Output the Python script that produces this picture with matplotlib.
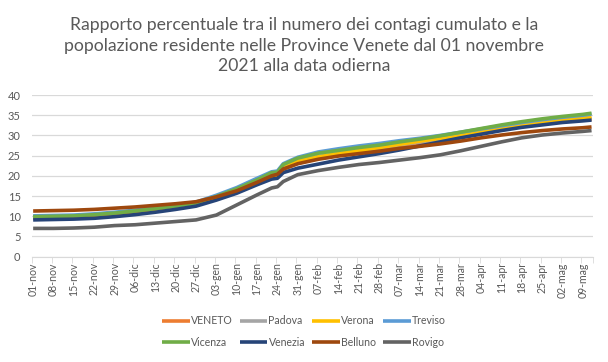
import matplotlib
matplotlib.use("Agg")
import matplotlib.pyplot as plt
from matplotlib.ticker import FixedLocator

# ---- data -------------------------------------------------------------
tick_labels = ["01-nov", "08-nov", "15-nov", "22-nov", "29-nov", "06-dic", "13-dic",
               "20-dic", "27-dic", "03-gen", "10-gen", "17-gen", "24-gen", "31-gen",
               "07-feb", "14-feb", "21-feb", "28-feb", "07-mar", "14-mar", "21-mar",
               "28-mar", "04-apr", "11-apr", "18-apr", "25-apr", "02-mag", "09-mag"]
n_days = 193  # 01-nov-2021 .. 12-mag-2022

# day offsets from 01-nov-2021 at which values were read
giorni = [0, 7, 14, 21, 28, 35, 42, 49, 56, 63, 70, 77, 82, 84, 86, 91, 98, 105,
          112, 119, 126, 133, 140, 147, 154, 161, 168, 175, 182, 189, 192]

veneto = [9.5, 9.6, 9.7, 10.0, 10.4, 10.8, 11.4, 12.0, 12.8, 14.3, 16.1, 18.3, 19.8,
          20.0, 21.6, 23.1, 24.3, 25.1, 25.8, 26.5, 27.3, 28.0, 28.8, 29.7, 30.6,
          31.4, 32.2, 32.8, 33.4, 33.8, 34.0]
padova = [9.9, 10.0, 10.1, 10.3, 10.7, 11.1, 11.7, 12.3, 13.1, 14.6, 16.5, 18.7, 20.3,
          20.5, 22.0, 23.7, 24.8, 25.5, 26.2, 26.9, 27.7, 28.4, 29.1, 30.0, 30.9,
          31.7, 32.5, 33.1, 33.6, 34.0, 34.2]
verona = [9.7, 9.8, 9.9, 10.2, 10.6, 11.0, 11.6, 12.2, 13.0, 14.5, 16.4, 18.6, 20.1,
          20.3, 21.9, 23.6, 24.7, 25.5, 26.2, 27.0, 27.8, 28.6, 29.3, 30.2, 31.1,
          31.9, 32.7, 33.3, 33.9, 34.3, 34.5]
treviso = [10.1, 10.2, 10.3, 10.6, 11.0, 11.5, 12.1, 12.7, 13.5, 15.2, 17.1, 19.4, 21.0,
           21.2, 23.0, 24.6, 25.9, 26.7, 27.4, 28.0, 28.7, 29.3, 30.0, 30.8, 31.6,
           32.4, 33.2, 33.9, 34.5, 35.0, 35.3]
vicenza = [9.9, 10.0, 10.1, 10.4, 10.8, 11.3, 11.9, 12.5, 13.3, 14.9, 16.8, 19.0, 20.8,
           20.9, 22.8, 24.4, 25.6, 26.3, 27.0, 27.6, 28.4, 29.1, 29.9, 30.8, 31.7,
           32.6, 33.4, 34.1, 34.7, 35.2, 35.5]
venezia = [9.1, 9.2, 9.3, 9.5, 9.9, 10.4, 11.0, 11.7, 12.5, 14.0, 15.7, 17.8, 19.2,
           19.4, 20.8, 21.9, 22.9, 23.9, 24.7, 25.5, 26.4, 27.4, 28.4, 29.4, 30.3,
           31.2, 32.0, 32.6, 33.2, 33.6, 33.8]
belluno = [11.3, 11.4, 11.5, 11.7, 12.0, 12.3, 12.7, 13.1, 13.6, 14.8, 16.3, 18.4, 20.0,
           20.4, 21.7, 23.0, 24.1, 24.9, 25.5, 26.1, 26.8, 27.3, 27.9, 28.6, 29.4,
           30.1, 30.7, 31.2, 31.6, 31.9, 32.1]
rovigo = [7.0, 7.0, 7.1, 7.3, 7.7, 7.9, 8.3, 8.7, 9.1, 10.3, 12.8, 15.3, 17.0,
          17.3, 18.6, 20.3, 21.3, 22.1, 22.8, 23.3, 23.9, 24.5, 25.2, 26.2, 27.3,
          28.4, 29.4, 30.1, 30.6, 31.0, 31.2]

serie = [("VENETO", veneto, "#ED7D31"),
         ("Padova", padova, "#A5A5A5"),
         ("Verona", verona, "#FFC000"),
         ("Treviso", treviso, "#5B9BD5"),
         ("Vicenza", vicenza, "#70AD47"),
         ("Venezia", venezia, "#264478"),
         ("Belluno", belluno, "#9E480E"),
         ("Rovigo", rovigo, "#636363")]

# ---- figure -----------------------------------------------------------
plt.rcParams["font.family"] = ["Lato", "DejaVu Sans"]
txt = "#595959"
fig = plt.figure(figsize=(6.08, 3.62), dpi=100)
ax = fig.add_axes([31.7 / 608, 1 - 256.7 / 362, (593 - 31.7) / 608, (256.7 - 95) / 362])

handles = []
for nome, vals, col in serie:
    h, = ax.plot(giorni, vals, color=col, lw=2.6, label=nome, solid_capstyle="butt")
    handles.append(h)

ax.set_xlim(-0.5, n_days - 0.5)
ax.set_ylim(0, 40)
ax.set_yticks(range(0, 41, 5))
ax.yaxis.grid(True, color="#D9D9D9", lw=0.9)
ax.set_axisbelow(True)
for s in ("top", "right", "left"):
    ax.spines[s].set_visible(False)
ax.spines["bottom"].set_color("#D9D9D9")
ax.tick_params(axis="y", length=0, labelsize=8, labelcolor=txt, pad=8)

label_pos = [7 * i for i in range(len(tick_labels))]
ax.set_xticks(label_pos)
ax.set_xticklabels(tick_labels, rotation=90)
ax.tick_params(axis="x", which="major", length=0, labelsize=7.6, labelcolor=txt, pad=4)
ax.xaxis.set_minor_locator(FixedLocator([p - 0.5 for p in label_pos] + [n_days - 0.5]))
ax.tick_params(axis="x", which="minor", length=4, color="#D9D9D9", direction="out")

fig.text(0.5, 1 - 45.5 / 362,
         "Rapporto percentuale tra il numero dei contagi cumulato e la\n"
         "popolazione residente nelle Province Venete dal 01 novembre\n"
         "2021 alla data odierna",
         ha="center", va="center", fontsize=12.7, color=txt, linespacing=1.32)

# legend filled row by row (matplotlib fills columns first)
order = [0, 4, 1, 5, 2, 6, 3, 7]
leg = fig.legend([handles[i] for i in order], [serie[i][0] for i in order],
                 loc="center", bbox_to_anchor=(304 / 608, 1 - 331.5 / 362), ncol=4,
                 frameon=False, fontsize=7.6, handlelength=2.6, handletextpad=0.1,
                 columnspacing=0.7, labelspacing=0.95, borderpad=0)
for t in leg.get_texts():
    t.set_color(txt)

fig.savefig("out.png", dpi=100)
